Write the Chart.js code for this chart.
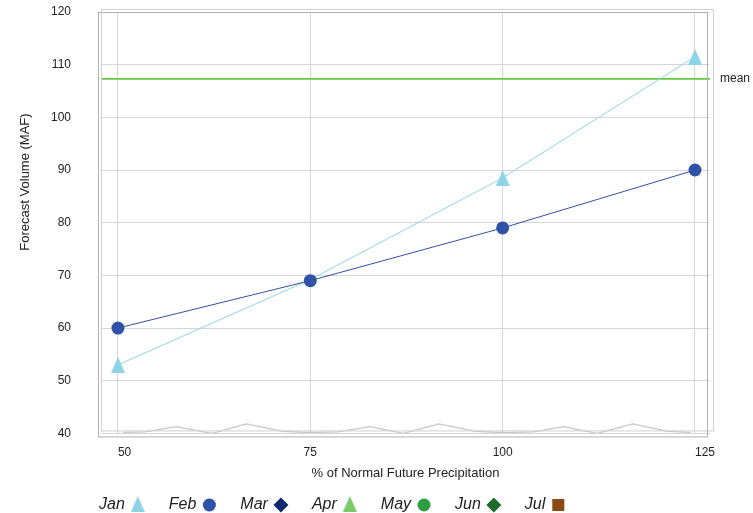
<!DOCTYPE html>
<html>
<head>
<meta charset="utf-8">
<script src="https://cdn.jsdelivr.net/npm/chart.js@4/dist/chart.umd.min.js"></script>
<style>
  html, body { margin: 0; padding: 0; background: #fff; }
</style>
</head>
<body>
<canvas id="forecastChart" width="753" height="513"></canvas>
<script>
// data
const precipPct = [50, 75, 100, 125];
const janVolume = [53, 69.2, 88.5, 111.5];
const febVolume = [60, 69, 79, 90];
const meanVolume = 107.3;
const monthNames = ['Jan', 'Feb', 'Mar', 'Apr', 'May', 'Jun', 'Jul'];

// faint grey trace along the bottom of the plot
const traceX = [50.7, 53.5, 57.6, 62.2, 66.7, 71.5, 74.3, 75.6, 78.5, 82.8, 87.1, 91.7, 96.5, 99.3, 101, 104, 107.9, 112.3, 116.9, 121.5, 124.4];
const traceY = [40.2, 40.3, 41.3, 40.0, 41.8, 40.4, 40.2, 40.2, 40.3, 41.3, 40.0, 41.8, 40.4, 40.2, 40.2, 40.3, 41.3, 40.0, 41.8, 40.4, 40.2];

const fontFamily = '"Liberation Sans", Arial, sans-serif';
const textColor = '#222';
const gridColor = '#d6d6d6';

const markerColors = ['#8fd4e6', '#2f51a8', '#0e2b6e', '#7acb6a', '#2e9e40', '#1d6a2a', '#8b4a14'];
const markerStyles = ['tri', 'circle', 'rectRot', 'tri', 'circle', 'rectRot', 'rect'];

// slightly tall triangle used by Jan / Apr
function tallTriangle(color) {
    const c = document.createElement('canvas');
    c.width = 14;
    c.height = 16;
    const g = c.getContext('2d');
    g.fillStyle = color;
    g.beginPath();
    g.moveTo(7, 0);
    g.lineTo(14, 16);
    g.lineTo(0, 16);
    g.closePath();
    g.fill();
    return c;
}

const janTriangle = tallTriangle(markerColors[0]);

// Jan marker is hidden where the Feb circle sits on top of it
function janStyle(c) {
    const i = c.dataIndex;
    return Math.abs(janVolume[i] - febVolume[i]) < 1 ? false : janTriangle;
}

function styleFor(i) {
    if (i === 0) return janStyle;
    return markerStyles[i] === 'tri' ? tallTriangle(markerColors[i]) : markerStyles[i];
}

const toPoints = (xs, ys) => xs.map((x, i) => ({ x: x, y: ys[i] }));

const monthSets = monthNames.map((m, i) => ({
    label: m,
    data: i === 0 ? toPoints(precipPct, janVolume) : i === 1 ? toPoints(precipPct, febVolume) : [],
    borderColor: markerColors[i],
    backgroundColor: markerColors[i],
    pointBackgroundColor: markerColors[i],
    pointBorderWidth: 0,
    borderWidth: 1,
    pointStyle: styleFor(i),
    pointRadius: i === 1 ? 6.5 : 8,
    order: i === 1 ? 0 : 1
}));

const traceSet = {
    label: 'trace',
    data: toPoints(traceX, traceY),
    borderColor: '#c8c8c8',
    borderWidth: 1.3,
    pointRadius: 0,
    order: 2
};

const tickFont = { family: fontFamily, size: 12 };
const titleFont = { family: fontFamily, size: 13 };

// mean line, frame, side labels and the legend
const decorPlugin = {
    id: 'decor',
    beforeDatasetsDraw(chart) {
        const { ctx, chartArea } = chart;
        const y = chart.scales.y.getPixelForValue(meanVolume);
        ctx.save();
        ctx.strokeStyle = '#66cc44';
        ctx.lineWidth = 1.6;
        ctx.beginPath();
        ctx.moveTo(chartArea.left, y);
        ctx.lineTo(chartArea.right, y);
        ctx.stroke();
        ctx.restore();
    },
    afterDraw(chart) {
        const { ctx, chartArea: a } = chart;
        ctx.save();
        // double frame
        ctx.lineWidth = 1;
        ctx.strokeStyle = '#d0d0d0';
        ctx.strokeRect(a.left + 0.5, a.top - 2.5, a.right - a.left + 3, a.bottom - a.top);
        ctx.strokeStyle = '#b0b0b0';
        ctx.strokeRect(a.left - 2.5, a.top + 0.5, a.right - a.left, a.bottom - a.top + 3);

        // x tick labels: end ones sit right of their tick, middle ones centred
        ctx.fillStyle = textColor;
        ctx.font = '12px ' + fontFamily;
        ctx.textBaseline = 'middle';
        precipPct.forEach((v, i) => {
            const px = chart.scales.x.getPixelForValue(v);
            const edge = i === 0 || i === precipPct.length - 1;
            ctx.textAlign = edge ? 'left' : 'center';
            ctx.fillText(String(v), px, a.bottom + 19);
        });

        // mean label
        const my = chart.scales.y.getPixelForValue(meanVolume);
        ctx.textAlign = 'left';
        ctx.fillText('mean', a.right + 10, my);

        // y title
        ctx.save();
        ctx.font = '13px ' + fontFamily;
        ctx.translate(25, 182);
        ctx.rotate(-Math.PI / 2);
        ctx.textAlign = 'center';
        ctx.fillText('Forecast Volume (MAF)', 0, 0);
        ctx.restore();

        // legend: italic label, then marker
        let x = 99;
        const ly = 505;
        monthNames.forEach((m, i) => {
            ctx.font = 'italic 16px ' + fontFamily;
            ctx.fillStyle = textColor;
            ctx.textAlign = 'left';
            ctx.fillText(m, x, ly);
            x += ctx.measureText(m).width + 13;
            const st = markerStyles[i];
            ctx.fillStyle = markerColors[i];
            if (st === 'tri') {
                ctx.drawImage(tallTriangle(markerColors[i]), x - 7, ly - 9);
            } else {
                const r = st === 'circle' ? 6.5 : st === 'rectRot' ? 7.5 : 8.5;
                Chart.helpers.drawPoint(ctx, { pointStyle: st, radius: r, rotation: 0, borderWidth: 0 }, x, ly);
            }
            x += 31;
        });
        ctx.restore();
    }
};

const forecastCtx = document.getElementById('forecastChart').getContext('2d');
const forecastChart = new Chart(forecastCtx, {
    type: 'line',
    data: {
        datasets: monthSets.concat([traceSet])
    },
    options: {
        responsive: false,
        animation: false,
        layout: {
            autoPadding: false,
            padding: { top: 12, right: 43, bottom: 28, left: 0 }
        },
        plugins: {
            legend: { display: false },
            tooltip: { enabled: false }
        },
        scales: {
            x: {
                type: 'linear',
                min: 47.8,
                max: 126.95,
                afterBuildTicks: scale => {
                    scale.ticks = precipPct.map(v => ({ value: v }));
                },
                grid: { color: gridColor, drawTicks: false },
                border: { display: false },
                ticks: { display: false },
                title: {
                    display: true,
                    text: '% of Normal Future Precipitation',
                    font: titleFont,
                    color: textColor,
                    padding: { top: 32, bottom: 4 }
                }
            },
            y: {
                min: 40,
                max: 120,
                afterFit: scale => {
                    scale.width = 101;
                    scale.paddingTop = 7;
                    scale.paddingBottom = 7;
                },
                grid: { color: gridColor, drawTicks: false },
                border: { display: false },
                ticks: { stepSize: 10, padding: 30, font: tickFont, color: textColor }
            }
        }
    },
    plugins: [decorPlugin]
});
</script>
</body>
</html>
